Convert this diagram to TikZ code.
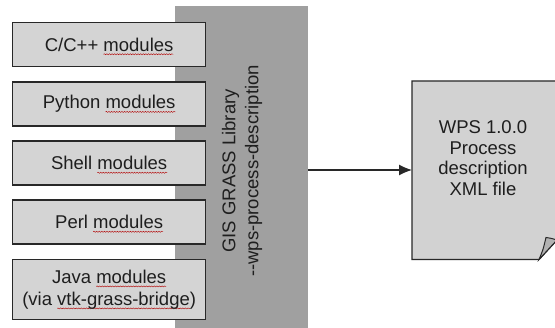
\documentclass[tikz,border=0pt]{standalone}
\usepackage{fontspec}
\setmainfont{Liberation Sans}
\usetikzlibrary{arrows.meta,decorations.pathmorphing}
\definecolor{boxfill}{RGB}{212,212,212}
\definecolor{panelfill}{RGB}{160,160,160}
\definecolor{docfill}{RGB}{210,210,210}
\definecolor{edge}{RGB}{40,40,40}
\definecolor{txt}{RGB}{30,30,30}
\tikzset{
  modbox/.style={draw=edge, line width=1.3pt, fill=boxfill, minimum width=193pt, anchor=north west, inner sep=0pt, align=center, text=txt, font=\fontsize{18.5}{22}\selectfont},
  squig/.style={draw=red!70!black, line width=0.4pt, decorate, decoration={snake, amplitude=0.55pt, segment length=2.6pt}},
}
\newcommand\sq[1]{\setbox0\hbox{#1}\rlap{\tikz[overlay,baseline=0pt]\draw[squig](0pt,-3pt)--(\wd0,-3pt);}\box0}
\begin{document}
\begin{tikzpicture}[x=1pt,y=-1pt]
\useasboundingbox[fill=white] (0,0) rectangle (555,328);
% panel
\node[fill=panelfill, minimum width=133pt, minimum height=325pt, anchor=north west, inner sep=0pt] (panel) at (175,6) {};
\node[rotate=90, align=center, text=txt, font=\fontsize{18.5}{23}\selectfont] (plabel) at (242,171) {GIS GRASS Library\\-{}-wps-process-description};
% modules
\node[modbox, minimum height=44pt] (m1) at (12,22) {C/C++ \sq{modules}};
\node[modbox, minimum height=44pt] (m2) at (12,81.5) {Python \sq{modules}};
\node[modbox, minimum height=44pt] (m3) at (12,140.5) {Shell \sq{modules}};
\node[modbox, minimum height=44pt] (m4) at (12,199.5) {Perl \sq{modules}};
\node[modbox, minimum height=60pt] (m5) at (12,259) {Java \sq{modules}\\(via \sq{vtk-grass-bridge})};
% document
\path[draw=edge, line width=1.3pt, fill=docfill] (412,81) -- (557,81) -- (557,240) -- (539,259.5) -- (412,259.5) -- cycle;
\path[draw=edge, line width=1pt, fill=gray!60] (539,259.5) .. controls (543,250) .. (546,237.5) .. controls (550,238) .. (557,240) -- cycle;
\node[align=center, text=txt, font=\fontsize{18.5}{20.5}\selectfont, inner sep=0pt] (doc) at (483,158) {WPS 1.0.0\\Process\\description\\XML file};
\coordinate (docin) at (412,170);
\coordinate (pout) at (308,170);
\draw[edge, line width=1.2pt, -{Latex[length=13pt,width=11pt]}] (pout) -- (docin);
\end{tikzpicture}
\end{document}
